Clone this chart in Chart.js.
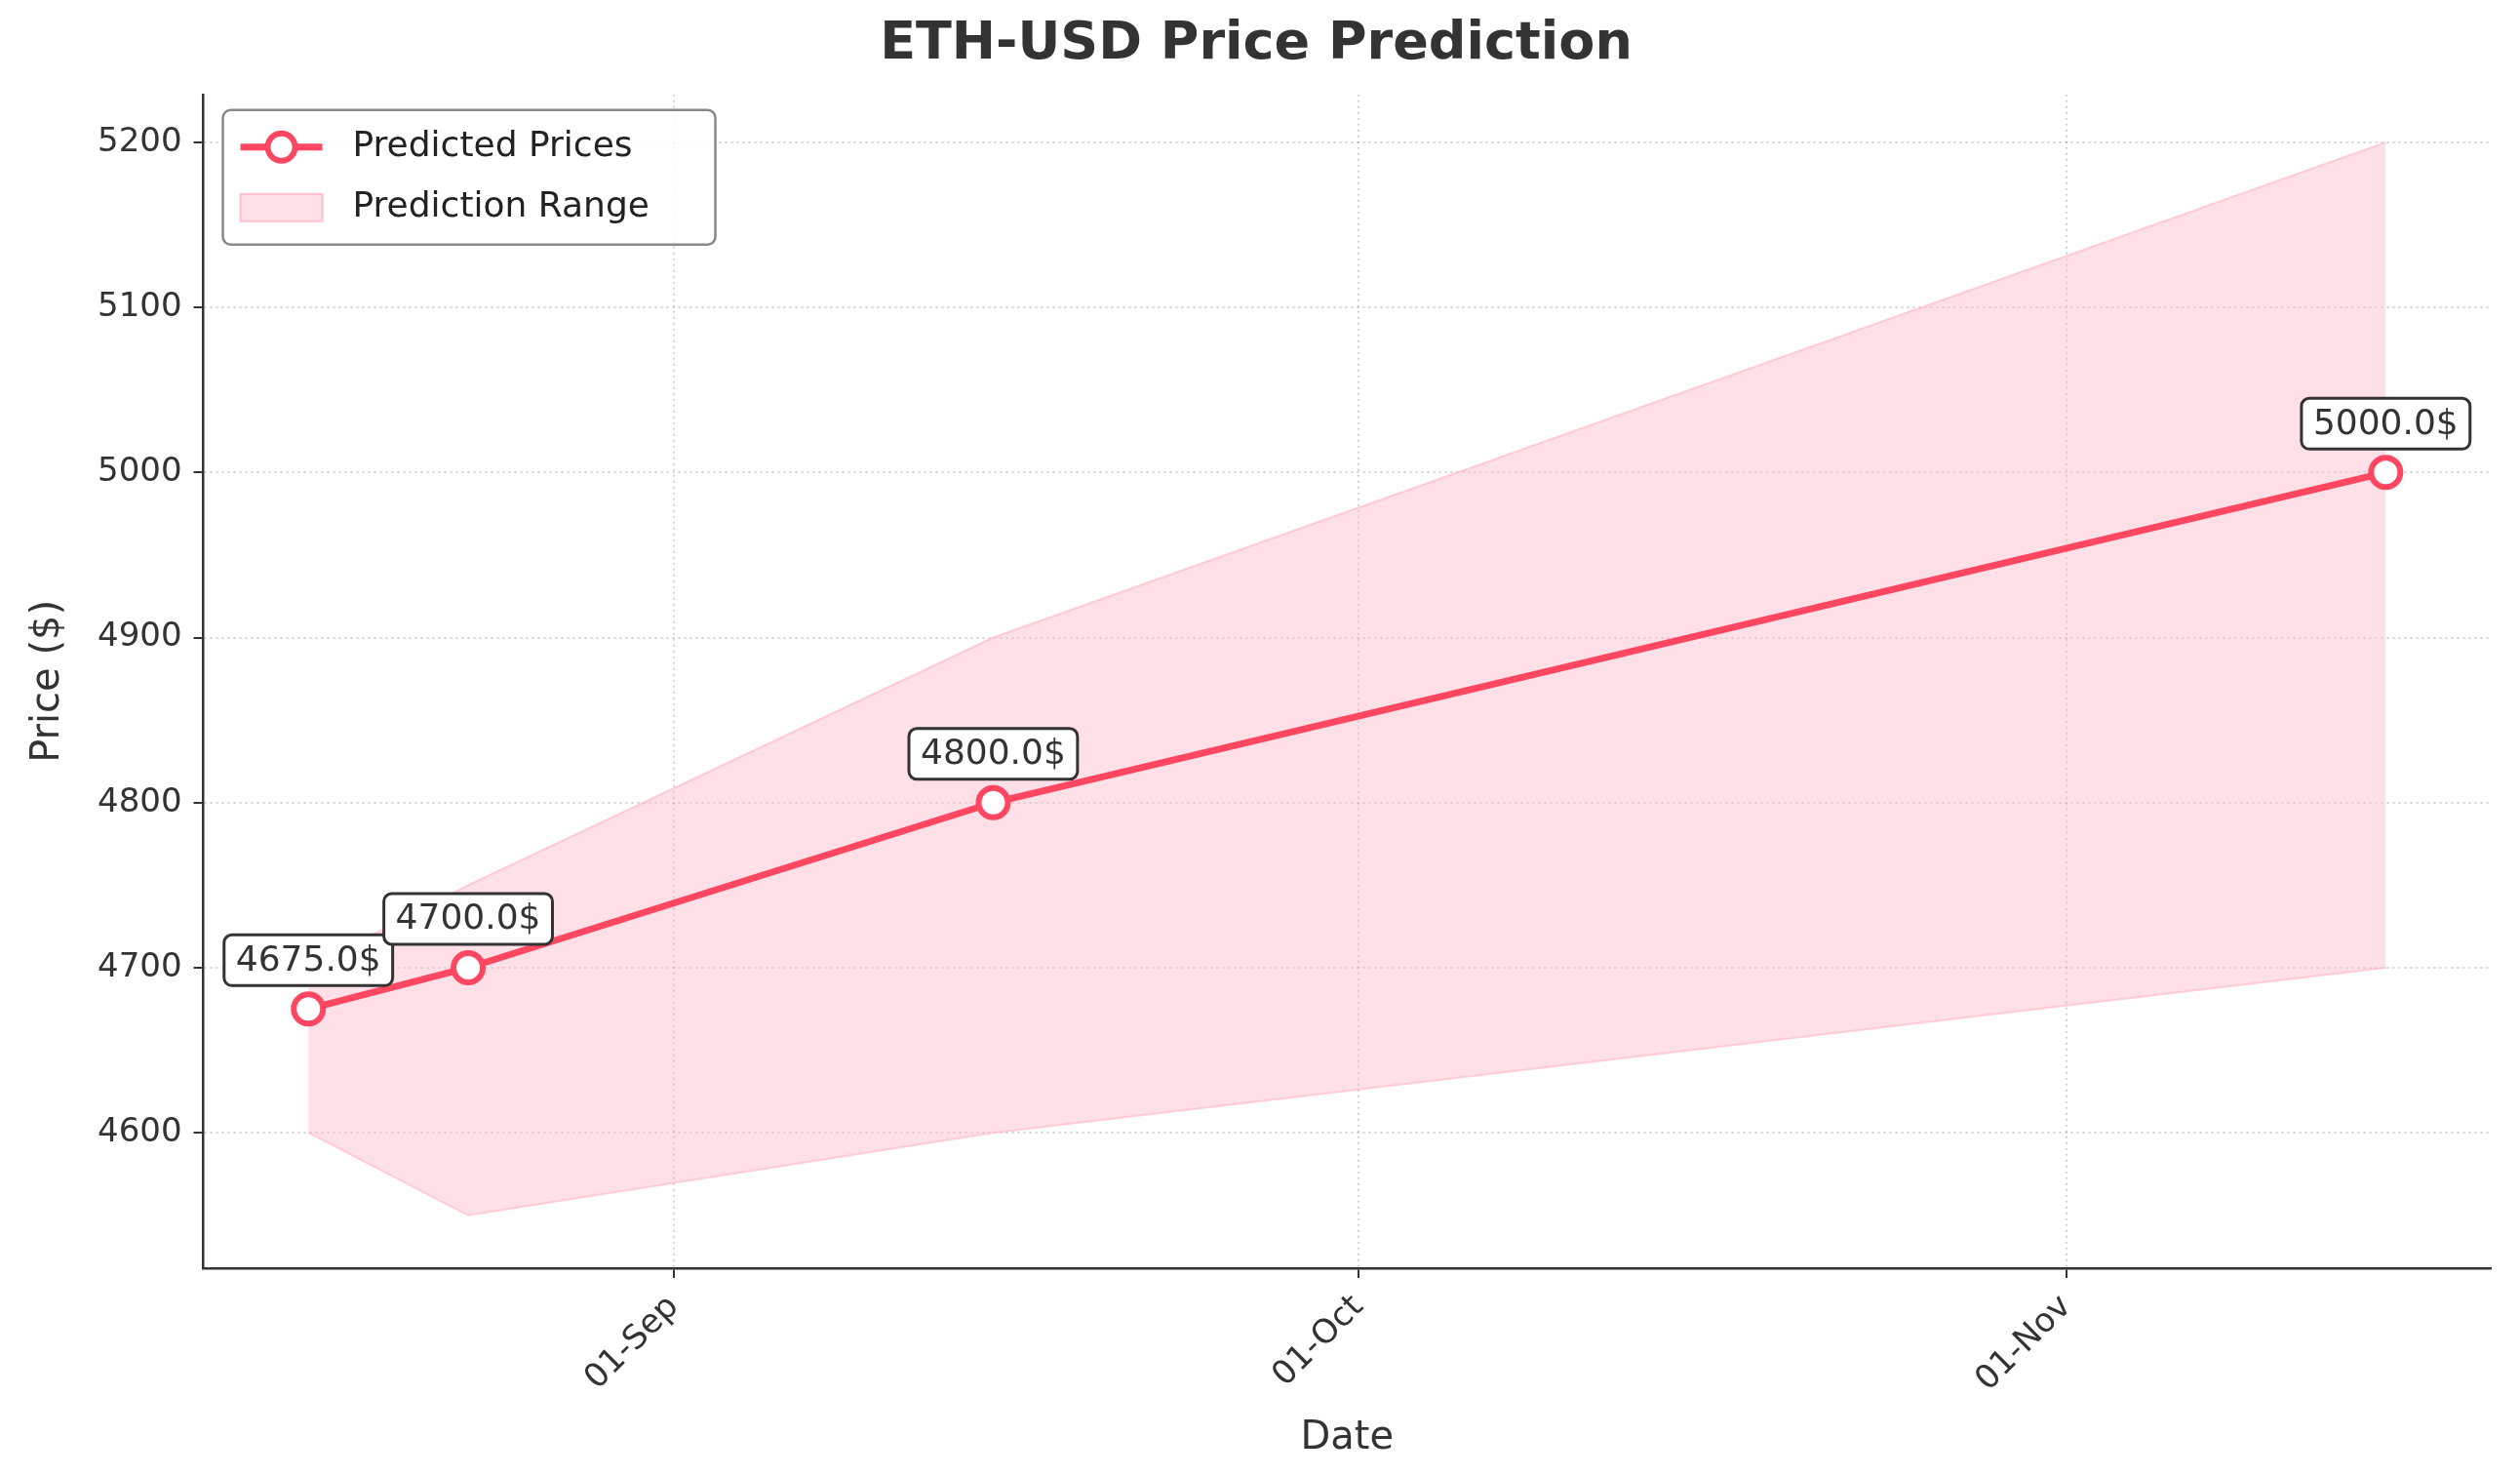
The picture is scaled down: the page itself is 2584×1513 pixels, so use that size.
<!DOCTYPE html>
<html>
<head>
<meta charset="utf-8">
<script src="https://cdn.jsdelivr.net/npm/chart.js@4.4.1/dist/chart.umd.min.js"></script>
<style>
  html, body { margin: 0; padding: 0; background: #fff; }
  #wrap { width: 2584px; height: 1513px; }
</style>
</head>
<body>
<div id="wrap"><canvas id="c"></canvas></div>
<script>
// days relative to 01-Sep
const dayOffsets = [-16, -9, 14, 75];
const dateLabels = ['16-Aug', '23-Aug', '15-Sep', '15-Nov'];
const predicted = [4675, 4700, 4800, 5000];
const upperBound = [4700, 4750, 4900, 5200];
const lowerBound = [4600, 4550, 4600, 4700];
const tickDays = [0, 30, 61];
const tickLabels = ['01-Sep', '01-Oct', '01-Nov'];
const priceTicks = [4600, 4700, 4800, 4900, 5000, 5100, 5200];

const red = '#FF4762';
const fillPink = 'rgba(255, 182, 196, 0.42)';
const font = 'DejaVu Sans';

const pts = arr => arr.map((v, i) => ({ x: dayOffsets[i], y: v }));

const overlay = {
    id: 'overlay',
    afterDatasetsDraw(chart) {
        const ctx = chart.ctx;
        const xs = chart.scales.x, ys = chart.scales.y;
        ctx.save();
        ctx.font = '36px ' + font;
        ctx.textAlign = 'center';
        ctx.textBaseline = 'middle';
        predicted.forEach((v, i) => {
            const px = xs.getPixelForValue(dayOffsets[i]);
            const py = ys.getPixelForValue(v) - 50;
            const txt = v.toFixed(1) + '$';
            const w = ctx.measureText(txt).width + 24, h = 52;
            ctx.beginPath();
            ctx.roundRect(px - w / 2, py - h / 2, w, h, 8);
            ctx.fillStyle = '#fff';
            ctx.fill();
            ctx.lineWidth = 3;
            ctx.strokeStyle = '#333';
            ctx.stroke();
            ctx.fillStyle = '#333';
            ctx.fillText(txt, px, py + 1);
        });

        // legend
        const lx = chart.chartArea.left + 20, ly = chart.chartArea.top + 16;
        ctx.beginPath();
        ctx.roundRect(lx, ly, 505, 138, 8);
        ctx.fillStyle = 'rgba(255,255,255,0.85)';
        ctx.fill();
        ctx.lineWidth = 2.5;
        ctx.strokeStyle = '#888';
        ctx.stroke();
        ctx.textAlign = 'left';
        ctx.font = '36px ' + font;
        ctx.strokeStyle = red;
        ctx.lineWidth = 7;
        ctx.beginPath();
        ctx.moveTo(lx + 18, ly + 38); ctx.lineTo(lx + 102, ly + 38); ctx.stroke();
        ctx.beginPath();
        ctx.arc(lx + 60, ly + 38, 14, 0, Math.PI * 2);
        ctx.fillStyle = '#fff'; ctx.fill();
        ctx.lineWidth = 6; ctx.stroke();
        ctx.fillStyle = fillPink;
        ctx.fillRect(lx + 18, ly + 86, 84, 28);
        ctx.strokeStyle = 'rgba(255,160,180,0.6)'; ctx.lineWidth = 2;
        ctx.strokeRect(lx + 18, ly + 86, 84, 28);
        ctx.fillStyle = '#222';
        ctx.fillText('Predicted Prices', lx + 133, ly + 38);
        ctx.fillText('Prediction Range', lx + 133, ly + 100);
        ctx.restore();
    }
};

new Chart(document.getElementById('c'), {
    type: 'line',
    data: {
        datasets: [
            {
                label: 'Upper',
                data: pts(upperBound),
                borderColor: 'rgba(255,170,185,0.5)',
                borderWidth: 2,
                backgroundColor: fillPink,
                pointRadius: 0,
                fill: '+1',
                tension: 0,
                order: 2
            },
            {
                label: 'Lower',
                data: pts(lowerBound),
                borderColor: 'rgba(255,170,185,0.5)',
                borderWidth: 2,
                pointRadius: 0,
                fill: false,
                tension: 0,
                order: 2
            },
            {
                label: 'Predicted Prices',
                data: pts(predicted),
                borderColor: red,
                borderWidth: 7,
                pointRadius: 15,
                pointBorderWidth: 6,
                pointBackgroundColor: '#fff',
                pointBorderColor: red,
                fill: false,
                tension: 0,
                order: 0
            }
        ]
    },
    options: {
        responsive: true,
        maintainAspectRatio: false,
        animation: false,
        layout: { padding: { left: 22, right: 30, top: 0, bottom: 10 } },
        plugins: {
            legend: { display: false },
            tooltip: { enabled: false },
            title: {
                display: true,
                text: 'ETH-USD Price Prediction',
                color: '#333',
                font: { family: font, size: 54, weight: 'bold' },
                padding: { top: 14, bottom: 18 }
            }
        },
        scales: {
            x: {
                type: 'linear',
                min: -20.6,
                max: 79.6,
                afterBuildTicks: axis => { axis.ticks = tickDays.map(v => ({ value: v })); },
                ticks: {
                    minRotation: 45,
                    maxRotation: 45,
                    color: '#333',
                    font: { family: font, size: 34 },
                    padding: 10,
                    callback: v => tickLabels[tickDays.indexOf(v)]
                },
                grid: { color: 'rgba(0,0,0,0.18)', lineWidth: 2, tickLength: 10, tickColor: '#333' },
                border: { color: '#333', width: 2.5, dash: [2, 4] },
                title: { display: true, text: 'Date', color: '#333', font: { family: font, size: 40 }, padding: { top: 6 } }
            },
            y: {
                min: 4518,
                max: 5229,
                afterBuildTicks: axis => { axis.ticks = priceTicks.map(v => ({ value: v })); },
                ticks: { color: '#333', font: { family: font, size: 34 }, padding: 12, callback: v => String(v) },
                grid: { color: 'rgba(0,0,0,0.18)', lineWidth: 2, tickLength: 10, tickColor: '#333' },
                border: { color: '#333', width: 2.5, dash: [2, 4] },
                title: { display: true, text: 'Price ($)', color: '#333', font: { family: font, size: 40 }, padding: { bottom: 14 } }
            }
        }
    },
    plugins: [overlay]
});
</script>
</body>
</html>
